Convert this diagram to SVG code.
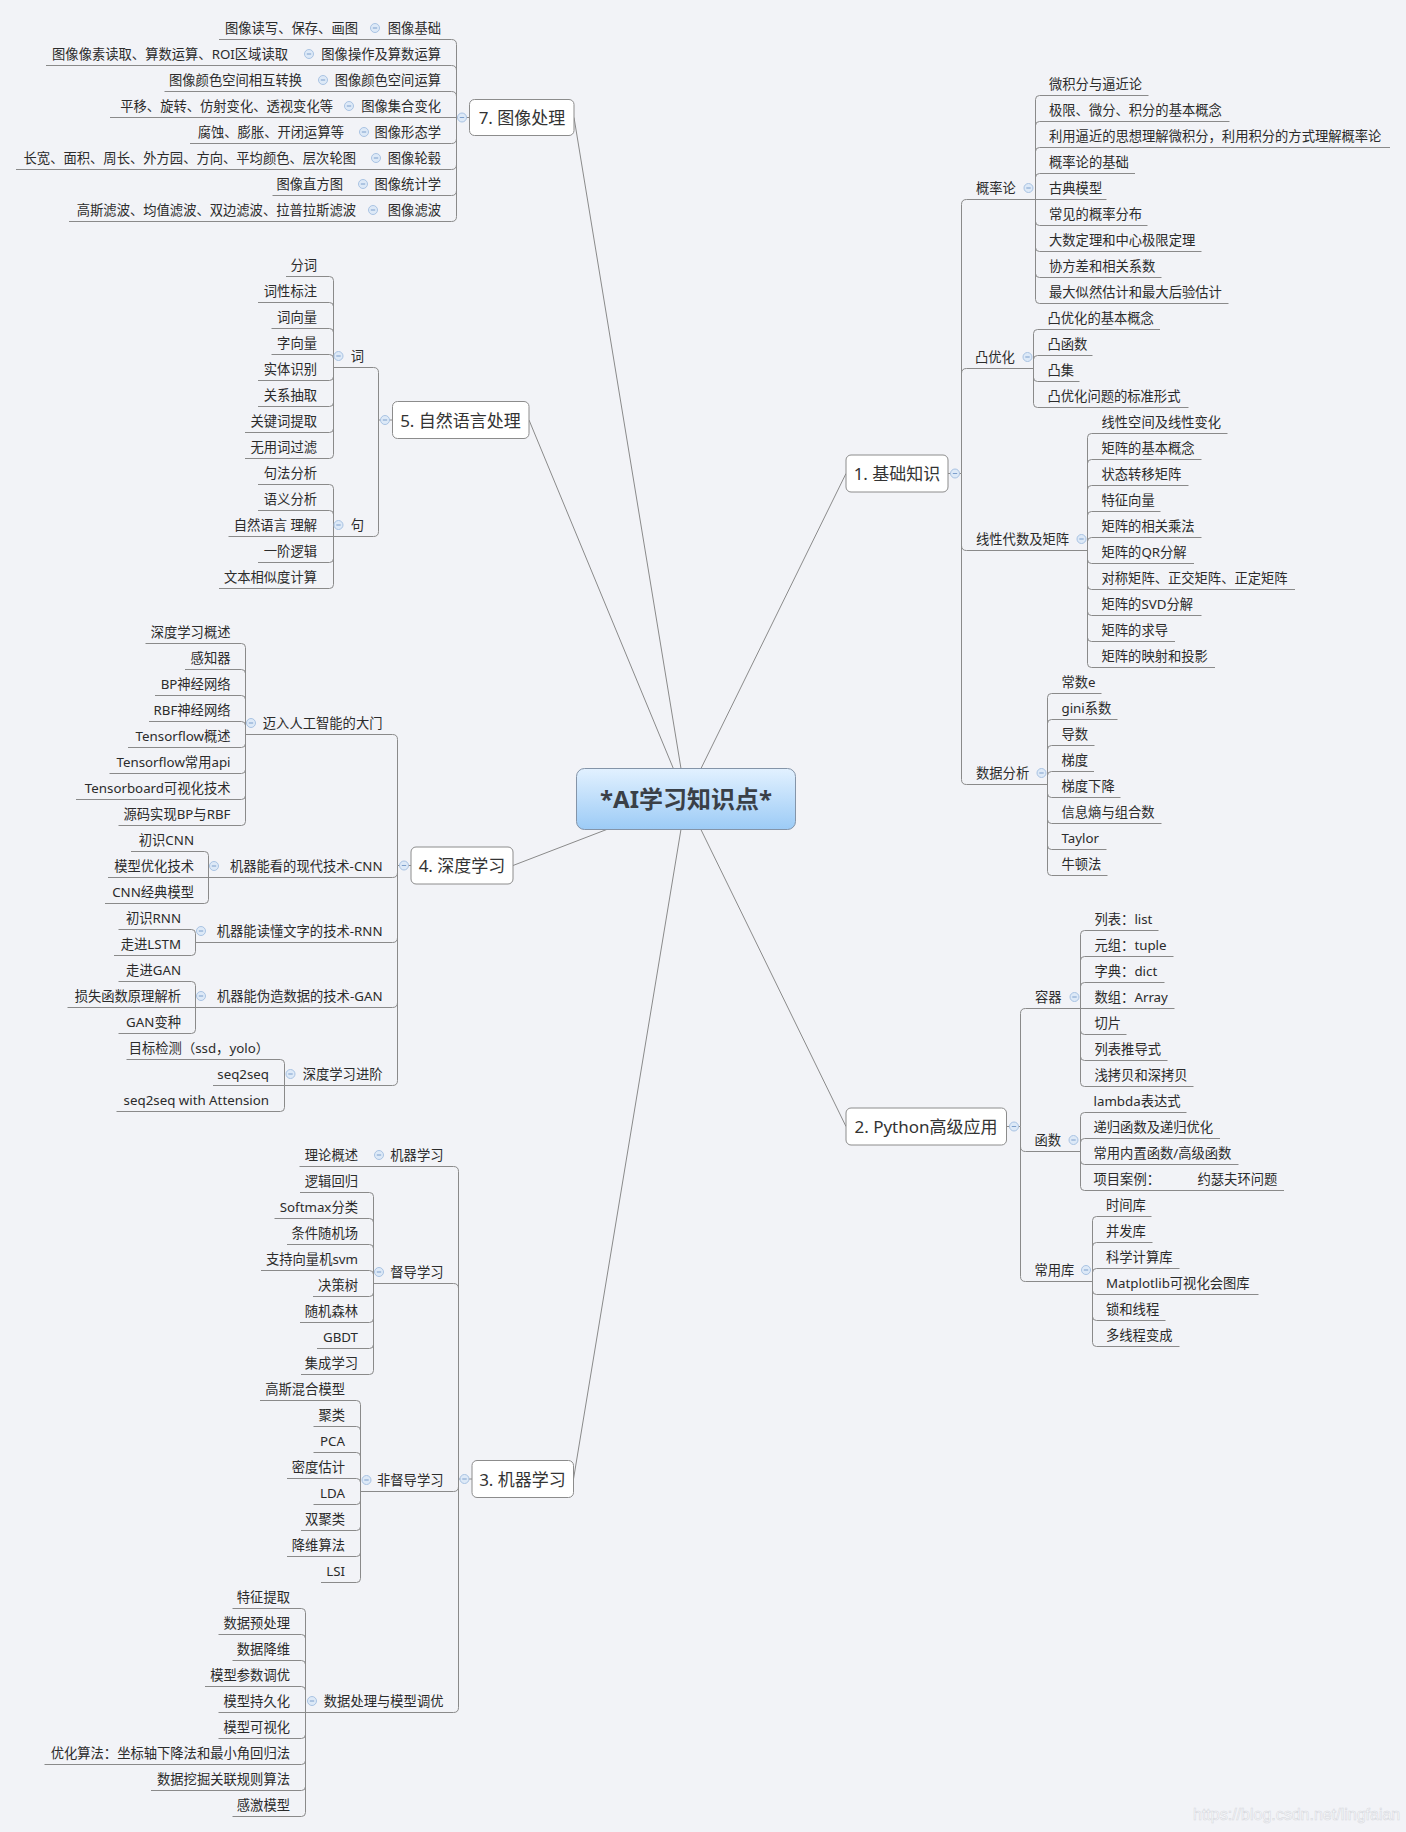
<svg xmlns="http://www.w3.org/2000/svg" xmlns:xlink="http://www.w3.org/1999/xlink" width="1406" height="1832" viewBox="0 0 1406 1832">
<style>
text{font-family:"Noto Sans","Noto Sans CJK SC",sans-serif;font-size:13.3px;fill:#2b2b2b}
.e{text-anchor:end}
.n{font-size:17px;text-anchor:middle;fill:#333}
.c{font-size:24px;font-weight:bold;text-anchor:middle;fill:#3a4047}
.l{fill:none;stroke:#8a8a8a;stroke-width:1}
.b{fill:#fff;stroke:#8c8c8c;stroke-width:1}
.w{font-family:"Liberation Sans",sans-serif;font-size:16px;fill:#ffffff;stroke:#d6d8de;stroke-width:0.6}
</style>
<defs>
<linearGradient id="cg" x1="0" y1="0" x2="0" y2="1"><stop offset="0" stop-color="#e2f1ff"/><stop offset="1" stop-color="#9ccbf6"/></linearGradient>
<g id="m"><circle r="4.5" fill="#dde9f7" stroke="#a9c3e3" stroke-width="1"/><path d="M-2.2 0H2.2" stroke="#7d9fcc" stroke-width="1"/></g>
</defs>
<rect width="1406" height="1832" fill="#f2f3f7"/>

<g id="connectors">
<path class="l" d="M686,799 L574,117.5 M686,799 L529,420 M686,799 L513,865.5 M686,799 L573.5,1479 M686,799 L846,473.5 M686,799 L846,1126.5"/>
<!-- 7 -->
<path class="l" d="M219,39.5 H451.5 Q456.5,39.5 456.5,44.5 V216.5 Q456.5,221.5 451.5,221.5 H69
M456.5,70.5 Q456.5,65.5 451.5,65.5 H46
M456.5,96.5 Q456.5,91.5 451.5,91.5 H164.5
M469.5,117.5 H110
M456.5,138.5 Q456.5,143.5 451.5,143.5 H190
M456.5,164.5 Q456.5,169.5 451.5,169.5 H16
M456.5,190.5 Q456.5,195.5 451.5,195.5 H272.5"/>
<!-- 5 -->
<path class="l" d="M392.5,420 H378.5 M378.5,420 V372.5 Q378.5,367.5 373.5,367.5 H333.5 M378.5,420 V531.5 Q378.5,536.5 373.5,536.5 H333.5
M286,276.5 H329.5 Q333.5,276.5 333.5,280.5 V454.5 Q333.5,458.5 329.5,458.5 H245
M333.5,306.5 Q333.5,302.5 329.5,302.5 H258
M333.5,332.5 Q333.5,328.5 329.5,328.5 H271.5
M333.5,358.5 Q333.5,354.5 329.5,354.5 H271.5
M333.5,376.5 Q333.5,380.5 329.5,380.5 H258
M333.5,402.5 Q333.5,406.5 329.5,406.5 H258
M333.5,428.5 Q333.5,432.5 329.5,432.5 H245
M258,484.5 H329.5 Q333.5,484.5 333.5,488.5 V584.5 Q333.5,588.5 329.5,588.5 H219
M333.5,514.5 Q333.5,510.5 329.5,510.5 H258
M333.5,536.5 H228.5
M333.5,558.5 Q333.5,562.5 329.5,562.5 H258"/>
<!-- 4 -->
<path class="l" d="M411,865.5 H397.5 M397.5,865.5 V739.5 Q397.5,734.5 392.5,734.5 H245.5 M397.5,865.5 V1080.5 Q397.5,1085.5 392.5,1085.5 H284.5
M397.5,872.5 Q397.5,877.5 392.5,877.5 H208.5
M397.5,937.5 Q397.5,942.5 392.5,942.5 H195.5
M397.5,1002.5 Q397.5,1007.5 392.5,1007.5 H195.5
M145.5,643.5 H241.5 Q245.5,643.5 245.5,647.5 V821.5 Q245.5,825.5 241.5,825.5 H118.5
M245.5,673.5 Q245.5,669.5 241.5,669.5 H185
M245.5,699.5 Q245.5,695.5 241.5,695.5 H155
M245.5,725.5 Q245.5,721.5 241.5,721.5 H149
M245.5,743.5 Q245.5,747.5 241.5,747.5 H128
M245.5,769.5 Q245.5,773.5 241.5,773.5 H109.5
M245.5,795.5 Q245.5,799.5 241.5,799.5 H76
M131,851.5 H204.5 Q208.5,851.5 208.5,855.5 V899.5 Q208.5,903.5 204.5,903.5 H105
M208.5,877.5 H108
M118.5,929.5 H191.5 Q195.5,929.5 195.5,933.5 V951.5 Q195.5,955.5 191.5,955.5 H114
M118.5,981.5 H191.5 Q195.5,981.5 195.5,985.5 V1029.5 Q195.5,1033.5 191.5,1033.5 H118.5
M195.5,1007.5 H67.5
M126.5,1059.5 H280.5 Q284.5,1059.5 284.5,1063.5 V1107.5 Q284.5,1111.5 280.5,1111.5 H116.5
M284.5,1085.5 H213"/>
<!-- 3 -->
<path class="l" d="M472,1479 H458.5 M458.5,1479 V1171.5 Q458.5,1166.5 453.5,1166.5 H299.5 M458.5,1479 V1707.5 Q458.5,1712.5 453.5,1712.5 H305.5
M458.5,1288.5 Q458.5,1283.5 453.5,1283.5 H373.5
M458.5,1486.5 Q458.5,1491.5 453.5,1491.5 H360.5
M300,1192.5 H369.5 Q373.5,1192.5 373.5,1196.5 V1370.5 Q373.5,1374.5 369.5,1374.5 H301
M373.5,1222.5 Q373.5,1218.5 369.5,1218.5 H274.5
M373.5,1248.5 Q373.5,1244.5 369.5,1244.5 H287
M373.5,1274.5 Q373.5,1270.5 369.5,1270.5 H261
M373.5,1292.5 Q373.5,1296.5 369.5,1296.5 H313
M373.5,1318.5 Q373.5,1322.5 369.5,1322.5 H300
M373.5,1344.5 Q373.5,1348.5 369.5,1348.5 H317
M260,1400.5 H356.5 Q360.5,1400.5 360.5,1404.5 V1578.5 Q360.5,1582.5 356.5,1582.5 H321
M360.5,1430.5 Q360.5,1426.5 356.5,1426.5 H313.5
M360.5,1456.5 Q360.5,1452.5 356.5,1452.5 H313.5
M360.5,1482.5 Q360.5,1478.5 356.5,1478.5 H287
M360.5,1500.5 Q360.5,1504.5 356.5,1504.5 H313.5
M360.5,1526.5 Q360.5,1530.5 356.5,1530.5 H301
M360.5,1552.5 Q360.5,1556.5 356.5,1556.5 H287
M232.5,1608.5 H301.5 Q305.5,1608.5 305.5,1612.5 V1812.5 Q305.5,1816.5 301.5,1816.5 H232.5
M305.5,1638.5 Q305.5,1634.5 301.5,1634.5 H218.5
M305.5,1664.5 Q305.5,1660.5 301.5,1660.5 H232.5
M305.5,1690.5 Q305.5,1686.5 301.5,1686.5 H205
M305.5,1712.5 H218.5
M305.5,1734.5 Q305.5,1738.5 301.5,1738.5 H218.5
M305.5,1760.5 Q305.5,1764.5 301.5,1764.5 H44.5
M305.5,1786.5 Q305.5,1790.5 301.5,1790.5 H151"/>
<!-- 1 -->
<path class="l" d="M948,473.5 H961.5 M961.5,473.5 V204.5 Q961.5,199.5 966.5,199.5 H1035.5 M961.5,473.5 V779.5 Q961.5,784.5 966.5,784.5 H1047.5
M961.5,373.5 Q961.5,368.5 966.5,368.5 H1033.5
M961.5,545.5 Q961.5,550.5 966.5,550.5 H1087.5
M1148.5,95.5 H1039.5 Q1035.5,95.5 1035.5,99.5 V299.5 Q1035.5,303.5 1039.5,303.5 H1228.5
M1035.5,125.5 Q1035.5,121.5 1039.5,121.5 H1229.5
M1035.5,151.5 Q1035.5,147.5 1039.5,147.5 H1390
M1035.5,177.5 Q1035.5,173.5 1039.5,173.5 H1135
M1035.5,199.5 H1106.5
M1035.5,221.5 Q1035.5,225.5 1039.5,225.5 H1147.5
M1035.5,247.5 Q1035.5,251.5 1039.5,251.5 H1201.5
M1035.5,273.5 Q1035.5,277.5 1039.5,277.5 H1161.5
M1160,329.5 H1037.5 Q1033.5,329.5 1033.5,333.5 V403.5 Q1033.5,407.5 1037.5,407.5 H1188.5
M1033.5,359.5 Q1033.5,355.5 1037.5,355.5 H1092.5
M1033.5,377.5 Q1033.5,381.5 1037.5,381.5 H1079.5
M1227.5,433.5 H1091.5 Q1087.5,433.5 1087.5,437.5 V663.5 Q1087.5,667.5 1091.5,667.5 H1215
M1087.5,463.5 Q1087.5,459.5 1091.5,459.5 H1201.5
M1087.5,489.5 Q1087.5,485.5 1091.5,485.5 H1188.5
M1087.5,515.5 Q1087.5,511.5 1091.5,511.5 H1160.5
M1087.5,541.5 Q1087.5,537.5 1091.5,537.5 H1201.5
M1087.5,559.5 Q1087.5,563.5 1091.5,563.5 H1194
M1087.5,585.5 Q1087.5,589.5 1091.5,589.5 H1295
M1087.5,611.5 Q1087.5,615.5 1091.5,615.5 H1201.5
M1087.5,637.5 Q1087.5,641.5 1091.5,641.5 H1175
M1101.5,693.5 H1051.5 Q1047.5,693.5 1047.5,697.5 V871.5 Q1047.5,875.5 1051.5,875.5 H1107.5
M1047.5,723.5 Q1047.5,719.5 1051.5,719.5 H1117.5
M1047.5,749.5 Q1047.5,745.5 1051.5,745.5 H1094.5
M1047.5,775.5 Q1047.5,771.5 1051.5,771.5 H1094
M1047.5,793.5 Q1047.5,797.5 1051.5,797.5 H1120.5
M1047.5,819.5 Q1047.5,823.5 1051.5,823.5 H1161.5
M1047.5,845.5 Q1047.5,849.5 1051.5,849.5 H1106.5"/>
<!-- 2 -->
<path class="l" d="M1006.5,1126.5 H1020.5 M1020.5,1126.5 V1013.5 Q1020.5,1008.5 1025.5,1008.5 H1080.5 M1020.5,1126.5 V1276.5 Q1020.5,1281.5 1025.5,1281.5 H1092.5
M1020.5,1146.5 Q1020.5,1151.5 1025.5,1151.5 H1080.5
M1158.5,930.5 H1084.5 Q1080.5,930.5 1080.5,934.5 V1082.5 Q1080.5,1086.5 1084.5,1086.5 H1193.5
M1080.5,960.5 Q1080.5,956.5 1084.5,956.5 H1173.5
M1080.5,986.5 Q1080.5,982.5 1084.5,982.5 H1164.5
M1080.5,1008.5 H1174.5
M1080.5,1030.5 Q1080.5,1034.5 1084.5,1034.5 H1126.5
M1080.5,1056.5 Q1080.5,1060.5 1084.5,1060.5 H1167.5
M1186.5,1112.5 H1084.5 Q1080.5,1112.5 1080.5,1116.5 V1186.5 Q1080.5,1190.5 1084.5,1190.5 H1284
M1080.5,1142.5 Q1080.5,1138.5 1084.5,1138.5 H1220
M1080.5,1160.5 Q1080.5,1164.5 1084.5,1164.5 H1238.5
M1151.5,1216.5 H1096.5 Q1092.5,1216.5 1092.5,1220.5 V1342.5 Q1092.5,1346.5 1096.5,1346.5 H1179.5
M1092.5,1246.5 Q1092.5,1242.5 1096.5,1242.5 H1152.5
M1092.5,1272.5 Q1092.5,1268.5 1096.5,1268.5 H1179.5
M1092.5,1290.5 Q1092.5,1294.5 1096.5,1294.5 H1258.5
M1092.5,1316.5 Q1092.5,1320.5 1096.5,1320.5 H1165.5"/>
</g>

<!-- central -->
<g id="n-center"><rect x="576.5" y="768.5" width="219" height="61" rx="8" fill="url(#cg)" stroke="#8494a8"/><text class="c" x="686" y="808">*AI学习知识点*</text></g>

<!-- 7 图像处理 -->
<g id="n7"><rect class="b" x="469.5" y="99.5" width="104.5" height="36" rx="5"/><text class="n" x="522" y="124">7. 图像处理</text><use xlink:href="#m" x="462" y="117.5"/></g>
<g id="n7-1"><text class="e" x="441" y="32.5">图像基础</text><use xlink:href="#m" x="375" y="28"/></g>
<g id="n7-1-1"><text class="e" x="358" y="32.5">图像读写、保存、画图</text></g>
<g id="n7-2"><text class="e" x="441" y="58.5">图像操作及算数运算</text><use xlink:href="#m" x="309" y="54"/></g>
<g id="n7-2-1"><text class="e" x="288" y="58.5">图像像素读取、算数运算、ROI区域读取</text></g>
<g id="n7-3"><text class="e" x="441" y="84.5">图像颜色空间运算</text><use xlink:href="#m" x="323" y="80"/></g>
<g id="n7-3-1"><text class="e" x="302" y="84.5">图像颜色空间相互转换</text></g>
<g id="n7-4"><text class="e" x="441" y="110.5">图像集合变化</text><use xlink:href="#m" x="349" y="106"/></g>
<g id="n7-4-1"><text class="e" x="333" y="110.5">平移、旋转、仿射变化、透视变化等</text></g>
<g id="n7-5"><text class="e" x="441" y="136.5">图像形态学</text><use xlink:href="#m" x="364" y="132"/></g>
<g id="n7-5-1"><text class="e" x="344" y="136.5">腐蚀、膨胀、开闭运算等</text></g>
<g id="n7-6"><text class="e" x="441" y="162.5">图像轮毂</text><use xlink:href="#m" x="376" y="158"/></g>
<g id="n7-6-1"><text class="e" x="356" y="162.5">长宽、面积、周长、外方园、方向、平均颜色、层次轮图</text></g>
<g id="n7-7"><text class="e" x="441" y="188.5">图像统计学</text><use xlink:href="#m" x="363" y="184"/></g>
<g id="n7-7-1"><text class="e" x="343" y="188.5">图像直方图</text></g>
<g id="n7-8"><text class="e" x="441" y="214.5">图像滤波</text><use xlink:href="#m" x="373" y="210"/></g>
<g id="n7-8-1"><text class="e" x="356" y="214.5">高斯滤波、均值滤波、双边滤波、拉普拉斯滤波</text></g>

<!-- 5 自然语言处理 -->
<g id="n5"><rect class="b" x="392.5" y="401.5" width="136.5" height="37" rx="5"/><text class="n" x="460.5" y="426.5">5. 自然语言处理</text><use xlink:href="#m" x="385" y="420"/></g>
<g id="n5-1"><text class="e" x="364" y="360.5">词</text><use xlink:href="#m" x="338.5" y="356"/></g>
<g id="n5-1-x">
<text class="e" x="317" y="269.5">分词</text>
<text class="e" x="317" y="295.5">词性标注</text>
<text class="e" x="317" y="321.5">词向量</text>
<text class="e" x="317" y="347.5">字向量</text>
<text class="e" x="317" y="373.5">实体识别</text>
<text class="e" x="317" y="399.5">关系抽取</text>
<text class="e" x="317" y="425.5">关键词提取</text>
<text class="e" x="317" y="451.5">无用词过滤</text>
</g>
<g id="n5-2"><text class="e" x="364" y="529.5">句</text><use xlink:href="#m" x="338.5" y="525"/></g>
<g id="n5-2-x">
<text class="e" x="317" y="477.5">句法分析</text>
<text class="e" x="317" y="503.5">语义分析</text>
<text class="e" x="317" y="529.5">自然语言 理解</text>
<text class="e" x="317" y="555.5">一阶逻辑</text>
<text class="e" x="317" y="581.5">文本相似度计算</text>
</g>

<!-- 4 深度学习 -->
<g id="n4"><rect class="b" x="411" y="847" width="102" height="37" rx="5"/><text class="n" x="462" y="872">4. 深度学习</text><use xlink:href="#m" x="404" y="865.5"/></g>
<g id="n4-1"><text class="e" x="382.5" y="727.5">迈入人工智能的大门</text><use xlink:href="#m" x="251" y="723"/></g>
<g id="n4-1-x">
<text class="e" x="230.5" y="636.5">深度学习概述</text>
<text class="e" x="230.5" y="662.5">感知器</text>
<text class="e" x="230.5" y="688.5">BP神经网络</text>
<text class="e" x="230.5" y="714.5">RBF神经网络</text>
<text class="e" x="230.5" y="740.5">Tensorflow概述</text>
<text class="e" x="230.5" y="766.5">Tensorflow常用api</text>
<text class="e" x="230.5" y="792.5">Tensorboard可视化技术</text>
<text class="e" x="230.5" y="818.5">源码实现BP与RBF</text>
</g>
<g id="n4-2"><text class="e" x="382.5" y="870.5">机器能看的现代技术-CNN</text><use xlink:href="#m" x="214" y="866"/></g>
<g id="n4-2-x">
<text class="e" x="194" y="844.5">初识CNN</text>
<text class="e" x="194" y="870.5">模型优化技术</text>
<text class="e" x="194" y="896.5">CNN经典模型</text>
</g>
<g id="n4-3"><text class="e" x="382.5" y="935.5">机器能读懂文字的技术-RNN</text><use xlink:href="#m" x="201" y="931"/></g>
<g id="n4-3-x">
<text class="e" x="181" y="922.5">初识RNN</text>
<text class="e" x="181" y="948.5">走进LSTM</text>
</g>
<g id="n4-4"><text class="e" x="382.5" y="1000.5">机器能伪造数据的技术-GAN</text><use xlink:href="#m" x="201" y="996"/></g>
<g id="n4-4-x">
<text class="e" x="181" y="974.5">走进GAN</text>
<text class="e" x="181" y="1000.5">损失函数原理解析</text>
<text class="e" x="181" y="1026.5">GAN变种</text>
</g>
<g id="n4-5"><text class="e" x="382.5" y="1078.5">深度学习进阶</text><use xlink:href="#m" x="290.5" y="1074"/></g>
<g id="n4-5-x">
<text class="e" x="269" y="1052.5">目标检测（ssd，yolo）</text>
<text class="e" x="269" y="1078.5">seq2seq</text>
<text class="e" x="269" y="1104.5">seq2seq with Attension</text>
</g>

<!-- 3 机器学习 -->
<g id="n3"><rect class="b" x="472" y="1460.5" width="101.5" height="37" rx="5"/><text class="n" x="522.5" y="1485.5">3. 机器学习</text><use xlink:href="#m" x="464.5" y="1479"/></g>
<g id="n3-1"><text class="e" x="443.5" y="1159.5">机器学习</text><use xlink:href="#m" x="379" y="1155"/></g>
<g id="n3-1-1"><text class="e" x="358" y="1159.5">理论概述</text></g>
<g id="n3-2"><text class="e" x="443.5" y="1276.5">督导学习</text><use xlink:href="#m" x="379" y="1272"/></g>
<g id="n3-2-x">
<text class="e" x="358" y="1185.5">逻辑回归</text>
<text class="e" x="358" y="1211.5">Softmax分类</text>
<text class="e" x="358" y="1237.5">条件随机场</text>
<text class="e" x="358" y="1263.5">支持向量机svm</text>
<text class="e" x="358" y="1289.5">决策树</text>
<text class="e" x="358" y="1315.5">随机森林</text>
<text class="e" x="358" y="1341.5">GBDT</text>
<text class="e" x="358" y="1367.5">集成学习</text>
</g>
<g id="n3-3"><text class="e" x="443.5" y="1484.5">非督导学习</text><use xlink:href="#m" x="366.5" y="1480"/></g>
<g id="n3-3-x">
<text class="e" x="345" y="1393.5">高斯混合模型</text>
<text class="e" x="345" y="1419.5">聚类</text>
<text class="e" x="345" y="1445.5">PCA</text>
<text class="e" x="345" y="1471.5">密度估计</text>
<text class="e" x="345" y="1497.5">LDA</text>
<text class="e" x="345" y="1523.5">双聚类</text>
<text class="e" x="345" y="1549.5">降维算法</text>
<text class="e" x="345" y="1575.5">LSI</text>
</g>
<g id="n3-4"><text class="e" x="443.5" y="1705.5">数据处理与模型调优</text><use xlink:href="#m" x="312" y="1701"/></g>
<g id="n3-4-x">
<text class="e" x="290" y="1601.5">特征提取</text>
<text class="e" x="290" y="1627.5">数据预处理</text>
<text class="e" x="290" y="1653.5">数据降维</text>
<text class="e" x="290" y="1679.5">模型参数调优</text>
<text class="e" x="290" y="1705.5">模型持久化</text>
<text class="e" x="290" y="1731.5">模型可视化</text>
<text class="e" x="290" y="1757.5">优化算法：坐标轴下降法和最小角回归法</text>
<text class="e" x="290" y="1783.5">数据挖掘关联规则算法</text>
<text class="e" x="290" y="1809.5">感激模型</text>
</g>

<!-- 1 基础知识 -->
<g id="n1"><rect class="b" x="846" y="455" width="102" height="37" rx="5"/><text class="n" x="897" y="480">1. 基础知识</text><use xlink:href="#m" x="955" y="473.5"/></g>
<g id="n1-1"><text x="976" y="192.5">概率论</text><use xlink:href="#m" x="1028.5" y="188"/></g>
<g id="n1-1-x">
<text x="1049" y="88.5">微积分与逼近论</text>
<text x="1049" y="114.5">极限、微分、积分的基本概念</text>
<text x="1049" y="140.5">利用逼近的思想理解微积分，利用积分的方式理解概率论</text>
<text x="1049" y="166.5">概率论的基础</text>
<text x="1049" y="192.5">古典模型</text>
<text x="1049" y="218.5">常见的概率分布</text>
<text x="1049" y="244.5">大数定理和中心极限定理</text>
<text x="1049" y="270.5">协方差和相关系数</text>
<text x="1049" y="296.5">最大似然估计和最大后验估计</text>
</g>
<g id="n1-2"><text x="975" y="361.5">凸优化</text><use xlink:href="#m" x="1027.5" y="357"/></g>
<g id="n1-2-x">
<text x="1047.5" y="322.5">凸优化的基本概念</text>
<text x="1047.5" y="348.5">凸函数</text>
<text x="1047.5" y="374.5">凸集</text>
<text x="1047.5" y="400.5">凸优化问题的标准形式</text>
</g>
<g id="n1-3"><text x="976" y="543.5">线性代数及矩阵</text><use xlink:href="#m" x="1081.5" y="539"/></g>
<g id="n1-3-x">
<text x="1101.5" y="426.5">线性空间及线性变化</text>
<text x="1101.5" y="452.5">矩阵的基本概念</text>
<text x="1101.5" y="478.5">状态转移矩阵</text>
<text x="1101.5" y="504.5">特征向量</text>
<text x="1101.5" y="530.5">矩阵的相关乘法</text>
<text x="1101.5" y="556.5">矩阵的QR分解</text>
<text x="1101.5" y="582.5">对称矩阵、正交矩阵、正定矩阵</text>
<text x="1101.5" y="608.5">矩阵的SVD分解</text>
<text x="1101.5" y="634.5">矩阵的求导</text>
<text x="1101.5" y="660.5">矩阵的映射和投影</text>
</g>
<g id="n1-4"><text x="976" y="777.5">数据分析</text><use xlink:href="#m" x="1041.5" y="773"/></g>
<g id="n1-4-x">
<text x="1061.5" y="686.5">常数e</text>
<text x="1061.5" y="712.5">gini系数</text>
<text x="1061.5" y="738.5">导数</text>
<text x="1061.5" y="764.5">梯度</text>
<text x="1061.5" y="790.5">梯度下降</text>
<text x="1061.5" y="816.5">信息熵与组合数</text>
<text x="1061.5" y="842.5">Taylor</text>
<text x="1061.5" y="868.5">牛顿法</text>
</g>

<!-- 2 Python高级应用 -->
<g id="n2"><rect class="b" x="846" y="1108" width="160.5" height="37" rx="5"/><text class="n" x="926" y="1133">2. Python高级应用</text><use xlink:href="#m" x="1014" y="1126.5"/></g>
<g id="n2-1"><text x="1035" y="1001.5">容器</text><use xlink:href="#m" x="1074.5" y="997"/></g>
<g id="n2-1-x">
<text x="1094.5" y="923.5">列表：list</text>
<text x="1094.5" y="949.5">元组：tuple</text>
<text x="1094.5" y="975.5">字典：dict</text>
<text x="1094.5" y="1001.5">数组：Array</text>
<text x="1094.5" y="1027.5">切片</text>
<text x="1094.5" y="1053.5">列表推导式</text>
<text x="1094.5" y="1079.5">浅拷贝和深拷贝</text>
</g>
<g id="n2-2"><text x="1034.5" y="1144.5">函数</text><use xlink:href="#m" x="1073.5" y="1140"/></g>
<g id="n2-2-x">
<text x="1093.5" y="1105.5">lambda表达式</text>
<text x="1093.5" y="1131.5">递归函数及递归优化</text>
<text x="1093.5" y="1157.5">常用内置函数/高级函数</text>
<text x="1093.5" y="1183.5">项目案例：<tspan x="1197.5">约瑟夫环问题</tspan></text>
</g>
<g id="n2-3"><text x="1034.5" y="1274.5">常用库</text><use xlink:href="#m" x="1086" y="1270"/></g>
<g id="n2-3-x">
<text x="1106" y="1209.5">时间库</text>
<text x="1106" y="1235.5">并发库</text>
<text x="1106" y="1261.5">科学计算库</text>
<text x="1106" y="1287.5">Matplotlib可视化会图库</text>
<text x="1106" y="1313.5">锁和线程</text>
<text x="1106" y="1339.5">多线程变成</text>
</g>

<text class="w" x="1193" y="1820">https://blog.csdn.net/lingfaian</text>
</svg>
